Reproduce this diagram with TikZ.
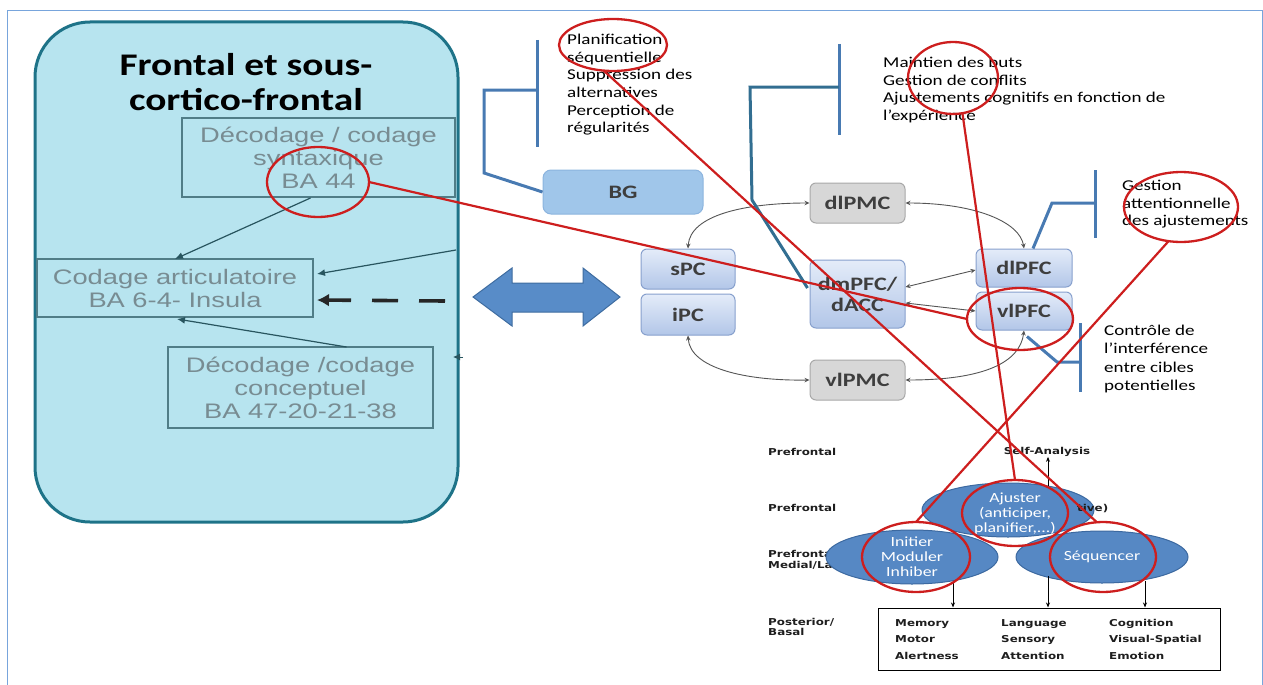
\documentclass[tikz,border=0pt]{standalone}
\usepackage{fontspec}
\setmainfont{Carlito}
\newfontfamily\calib[FakeStretch=1.27]{Carlito}
\newfontfamily\titlef[FakeStretch=1.25]{Carlito}
\newfontfamily\arialw[FakeStretch=1.3]{Liberation Sans}
\newfontfamily\dvb[FakeStretch=1.25]{DejaVu Sans}
\usetikzlibrary{shapes.geometric,arrows.meta,calc}

\definecolor{framec}{RGB}{120,165,220}
\definecolor{panelfill}{RGB}{183,228,239}
\definecolor{panelline}{RGB}{30,115,136}
\definecolor{boxline}{RGB}{80,125,135}
\definecolor{boxtext}{RGB}{120,140,146}
\definecolor{panelarr}{RGB}{40,85,95}
\definecolor{biafill}{RGB}{88,140,200}
\definecolor{bialine}{RGB}{62,108,160}
\definecolor{brkc}{RGB}{72,122,178}
\definecolor{brkteal}{RGB}{50,110,145}
\definecolor{bgfill}{RGB}{160,198,234}
\definecolor{bgline}{RGB}{140,180,222}
\definecolor{gfill}{RGB}{215,215,215}
\definecolor{gline}{RGB}{168,168,168}
\definecolor{btop}{RGB}{228,236,249}
\definecolor{bbot}{RGB}{178,198,232}
\definecolor{bline}{RGB}{135,160,205}
\definecolor{ntext}{RGB}{62,62,62}
\definecolor{garrc}{RGB}{85,85,85}
\definecolor{redc}{RGB}{205,30,30}
\definecolor{ellfill}{RGB}{86,136,196}
\definecolor{ellline}{RGB}{60,105,160}
\definecolor{lbl}{RGB}{30,30,30}

\begin{document}
\begin{tikzpicture}[x=1pt,y=-1pt,
  frame/.style={draw=framec,line width=1pt},
  panel/.style={draw=panelline,fill=panelfill,line width=3pt,rounded corners=55pt},
  graybox/.style={draw=boxline,line width=1.1pt,inner sep=0pt,outer sep=0pt,
    align=center,text=boxtext,font=\arialw\fontsize{21}{23}\selectfont},
  parr/.style={draw=panelarr,line width=1.2pt,-{Latex[length=8pt,width=7pt]}},
  brk/.style={draw=brkc,line width=3pt},
  note/.style={anchor=north west,align=left,inner sep=0pt,text=black,
    font=\calib\fontsize{15}{17.6}\selectfont},
  netnode/.style={rectangle,rounded corners=6pt,line width=1pt,inner sep=0pt,
    minimum width=95pt,minimum height=40pt,align=center,text=ntext,
    font=\calib\bfseries\fontsize{19}{21}\selectfont},
  gnode/.style={netnode,draw=gline,fill=gfill},
  bnode/.style={netnode,draw=bline,top color=btop,bottom color=bbot},
  garr/.style={draw=garrc,line width=0.9pt,
    {Stealth[length=5pt,width=4.5pt]}-{Stealth[length=5pt,width=4.5pt]}},
  rell/.style={ellipse,draw=redc,line width=2.3pt,inner sep=0pt,outer sep=0pt},
  rline/.style={draw=redc,line width=2.2pt},
  bell/.style={ellipse,draw=ellline,fill=ellfill,line width=1pt,inner sep=0pt},
  elltext/.style={align=center,text=white,inner sep=0pt,
    font=\calib\fontsize{14}{15}\selectfont},
  lvl/.style={anchor=west,inner sep=0pt,text=lbl,align=left,
    font=\dvb\bfseries\fontsize{9.5}{11}\selectfont},
  barr/.style={draw=black,line width=1pt,-{Stealth[length=5pt,width=4pt]}}
]
\useasboundingbox (0,0) rectangle (1263,685);

% outer frame
\draw[frame] (7,690) -- (7,11) -- (1262,11) -- (1262,690);

% ---------- left panel ----------
\draw[panel] (35,22) rectangle (458,522);
\node[text=black,align=center,inner sep=0pt,
  font=\titlef\bfseries\fontsize{31.5}{35}\selectfont] (title) at (246,82)
  {Frontal et sous-\\cortico-frontal};

\node[graybox,minimum width=273pt,minimum height=79pt] (ba44) at (318.5,157.5)
  {Décodage / codage\\syntaxique\\BA 44};
\node[graybox,minimum width=276pt,minimum height=58pt] (codage) at (175,288)
  {Codage articulatoire\\BA 6-4- Insula};
\node[graybox,minimum width=265pt,minimum height=81pt] (concept) at (300.5,387.5)
  {Décodage /codage\\conceptuel\\BA 47-20-21-38};

\coordinate (inA) at (456,250);
\coordinate (inB) at (445,301);
\coordinate (inC) at (463,357);
\draw[parr] ($(ba44.south)+(-8,1)$) -- (codage.north);
\draw[parr] (inA) -- ($(codage.east)+(4,-14)$);
\draw[line width=3.6pt,draw=black!85,dash pattern=on 26pt off 21pt,
  -{Latex[length=12pt,width=13pt]}] (inB) -- ($(codage.east)+(4,12)$);
\draw[parr] ($(concept.north)+(46,0)$) -- ($(codage.south)+(2,2)$);
\draw[draw=panelarr,line width=1pt,-{Latex[length=7pt,width=7pt]}] (inC) -- (453,357);

% ---------- double arrow ----------
\filldraw[fill=biafill,draw=bialine,line width=1pt]
  (473,297) -- (512,268) -- (512,283) -- (583,283) -- (583,268) -- (620,297)
  -- (583,326) -- (583,312) -- (512,312) -- (512,326) -- cycle;

% ---------- network ----------
\node[netnode,draw=bgline,fill=bgfill,minimum width=160pt,minimum height=44pt,
  rounded corners=8pt] (bg) at (623,192) {BG};
\node[bnode,minimum width=94pt] (spc) at (688,269) {sPC};
\node[bnode,minimum width=94pt,minimum height=41pt] (ipc) at (688,314.5) {iPC};
\node[gnode] (dlpmc) at (857.5,203) {dlPMC};
\node[bnode,minimum height=68pt] (dmpfc) at (857.5,294) {dmPFC/\\dACC};
\node[gnode] (vlpmc) at (857.5,380) {vlPMC};
\node[bnode,minimum width=96pt,minimum height=38pt] (dlpfc) at (1024,268) {dlPFC};
\node[bnode,minimum width=96pt,minimum height=38pt] (vlpfc) at (1024,311) {vlPFC};

\draw[garr] (spc.north) .. controls (690,215) and (745,203) .. (dlpmc.west);
\draw[garr] (ipc.south) .. controls (690,368) and (745,381) .. (vlpmc.west);
\draw[garr] (dlpmc.east) .. controls (975,203) and (1020,222) .. (dlpfc.north);
\draw[garr] ($(dmpfc.east)+(0,-7)$) -- ($(dlpfc.west)+(0,2)$);
\draw[garr] (vlpfc.west) -- ($(dmpfc.east)+(0,9)$);
\draw[garr] (vlpmc.east) .. controls (985,380) and (1020,362) .. (vlpfc.south);

% ---------- bracketed notes ----------
\draw[brk] (537,40) -- (537,147);
\draw[brk] (537,90) -- (484,90) -- (484,173) -- (bg.west);
\node[note] (plannote) at (567,34)
  {Planification\\séquentielle\\Suppression des\\alternatives\\Perception de\\régularités};

\draw[brk] (839,44) -- (839,135);
\draw[brk,draw=brkteal] (839,87) -- (750,87) -- (752,200) -- ($(dmpfc.west)+(-2,-6)$);
\node[note] (maintnote) at (883,57)
  {Maintien des buts\\Gestion de conflits\\Ajustements cognitifs en fonction de\\l’expérience};

\draw[brk] (1095,170) -- (1095,238);
\draw[brk] (1095,203) -- (1052,203) -- ($(dlpfc.north)+(9,0)$);
\node[note] (gestnote) at (1122,180)
  {Gestion\\attentionnelle\\des ajustements};

\draw[brk] (1080,323) -- (1080,392);
\draw[brk] (1080,362) -- (1057,362) -- ($(vlpfc.south)+(3,6)$);
\node[note,font=\calib\fontsize{15}{18.3}\selectfont] (ctrlnote) at (1104,325)
  {Contrôle de\\l’interférence\\entre cibles\\potentielles};

% ---------- hierarchy (bottom right) ----------
\node[lvl] (lv1) at (768,452) {Prefrontal};
\node[lvl] (lv2) at (768,508) {Prefrontal};
\node[lvl,anchor=north west] (lv3) at (768,550) {Prefrontal\\Medial/Lateral};
\node[lvl,anchor=north west,font=\dvb\bfseries\fontsize{9.5}{10.5}\selectfont]
  (lv4) at (768,618) {Posterior/\\Basal};
\node[lvl,anchor=center] (selfa) at (1047,452) {Self-Analysis};

\node[bell,minimum width=172pt,minimum height=54pt] (bajust) at (1008,510) {};
\node[bell,minimum width=172pt,minimum height=54pt] (binit) at (912,557) {};
\node[bell,minimum width=172pt,minimum height=52pt] (bseq) at (1102,557) {};
\node[elltext] (tajust) at (1015,514) {Ajuster\\(anticiper,\\planifier,...)};
\node[elltext] (tinit) at (912,557) {Initier\\Moduler\\Inhiber};
\node[elltext] (tseq) at (1102,557) {Séquencer};
\node[lvl] (exec) at (1077,509) {tive)};

\node[draw=black,line width=1pt,minimum width=342pt,minimum height=62pt,inner sep=0pt]
  (bbox) at (1049,639) {};
\node[lvl,anchor=north west,font=\dvb\bfseries\fontsize{9.5}{16.5}\selectfont]
  (col1) at (895,619) {Memory\\Motor\\Alertness};
\node[lvl,anchor=north west,font=\dvb\bfseries\fontsize{9.5}{16.5}\selectfont]
  (col2) at (1001,619) {Language\\Sensory\\Attention};
\node[lvl,anchor=north west,font=\dvb\bfseries\fontsize{9.5}{16.5}\selectfont]
  (col3) at (1109,619) {Cognition\\Visual-Spatial\\Emotion};

\coordinate (d0) at (1048,486);
\coordinate (d1) at (953,581);
\coordinate (d2) at (1048,576);
\coordinate (d3) at (1145,581);
\draw[barr] (d0) -- (d0 |- selfa.south);
\draw[barr] (d1) -- (d1 |- bbox.north);
\draw[barr] (d2) -- (d2 |- bbox.north);
\draw[barr] (d3) -- (d3 |- bbox.north);

% ---------- red annotations ----------
\node[rell,minimum width=102pt,minimum height=70pt] (rba) at (318,182) {};
\node[rell,minimum width=108pt,minimum height=52pt] (rplan) at (613,45) {};
\node[rell,minimum width=90pt,minimum height=72pt] (rmain) at (953,78) {};
\node[rell,minimum width=114pt,minimum height=70pt] (rgest) at (1181,207) {};
\node[rell,minimum width=106pt,minimum height=62pt] (rvl) at (1020,319) {};
\node[rell,minimum width=106pt,minimum height=66pt] (rajust) at (1015,513) {};
\node[rell,minimum width=108pt,minimum height=70pt] (rinit) at (916,557) {};
\node[rell,minimum width=106pt,minimum height=70pt] (rseq) at (1103,557) {};

\draw[rline] (rba.east) -- (rvl.west);
\draw[rline] (rplan.250) -- (rseq.100);
\draw[rline] (rmain.285) -- (rajust.north);
\draw[rline] (rgest.250) -- (rinit.north);
\end{tikzpicture}
\end{document}
